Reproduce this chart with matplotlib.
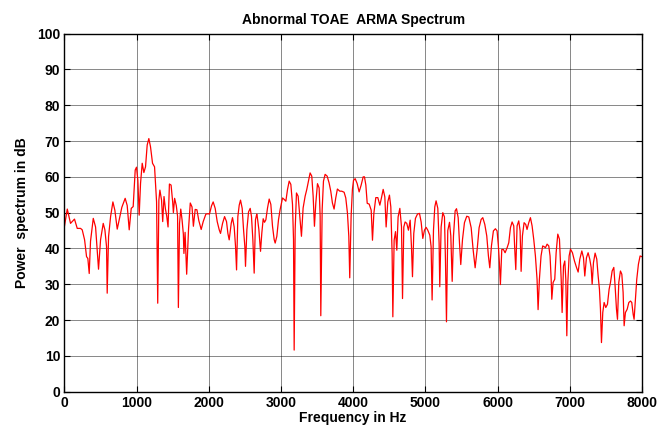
import matplotlib
matplotlib.use("Agg")
import matplotlib.pyplot as plt

# ARMA spectrum estimate of an abnormal TOAE recording
freq_hz = [
    0, 40, 85, 140, 178, 224, 247, 280, 307, 325, 344, 362, 400, 432, 455, 473, 501, 538, 561, 584,
    593, 612, 640, 672, 699, 732, 764, 796, 842, 870, 898, 926, 953, 981, 999, 1018, 1036, 1055, 1078, 1101,
    1124, 1147, 1170, 1193, 1221, 1249, 1277, 1293, 1309, 1323, 1346, 1362, 1380, 1400, 1418, 1436, 1455, 1478, 1500, 1510,
    1527, 1550, 1568, 1579, 1595, 1612, 1630, 1648, 1656, 1672, 1694, 1720, 1744, 1768, 1787, 1812, 1836, 1862, 1895, 1923,
    1960, 1990, 2010, 2038, 2061, 2089, 2117, 2145, 2163, 2191, 2219, 2246, 2265, 2283, 2311, 2329, 2352, 2371, 2385, 2403,
    2422, 2440, 2463, 2482, 2500, 2509, 2528, 2551, 2574, 2592, 2611, 2629, 2647, 2665, 2671, 2694, 2717, 2735, 2754, 2772,
    2791, 2814, 2837, 2860, 2883, 2906, 2920, 2943, 2966, 2989, 3022, 3045, 3068, 3091, 3114, 3137, 3160, 3174, 3183, 3197,
    3215, 3238, 3261, 3284, 3307, 3335, 3358, 3381, 3404, 3427, 3446, 3464, 3483, 3506, 3529, 3543, 3552, 3571, 3589, 3612,
    3640, 3667, 3690, 3713, 3736, 3759, 3782, 3815, 3842, 3875, 3898, 3921, 3940, 3953, 3972, 3990, 4005, 4028, 4056, 4083,
    4111, 4139, 4157, 4176, 4195, 4222, 4250, 4268, 4287, 4314, 4342, 4370, 4393, 4416, 4439, 4457, 4480, 4503, 4522, 4540,
    4550, 4568, 4587, 4605, 4623, 4647, 4670, 4684, 4702, 4720, 4743, 4766, 4790, 4808, 4822, 4840, 4863, 4891, 4919, 4942,
    4965, 4988, 5011, 5034, 5062, 5080, 5094, 5113, 5131, 5149, 5173, 5191, 5200, 5219, 5242, 5265, 5279, 5293, 5311, 5335,
    5353, 5372, 5390, 5413, 5432, 5455, 5473, 5491, 5515, 5542, 5574, 5602, 5635, 5662, 5690, 5718, 5745, 5773, 5796, 5824,
    5851, 5874, 5893, 5916, 5943, 5971, 5994, 6012, 6026, 6040, 6059, 6082, 6105, 6133, 6156, 6179, 6202, 6225, 6239, 6253,
    6271, 6294, 6313, 6327, 6345, 6368, 6391, 6409, 6433, 6456, 6479, 6502, 6525, 6548, 6562, 6580, 6603, 6626, 6645, 6664,
    6687, 6710, 6728, 6743, 6752, 6770, 6793, 6812, 6835, 6858, 6882, 6895, 6914, 6932, 6946, 6960, 6974, 6992, 7011, 7038,
    7066, 7094, 7117, 7140, 7168, 7191, 7209, 7232, 7255, 7278, 7297, 7311, 7329, 7352, 7375, 7394, 7412, 7426, 7440, 7458,
    7477, 7500, 7523, 7546, 7565, 7588, 7611, 7629, 7648, 7662, 7680, 7703, 7722, 7740, 7754, 7772, 7796, 7819, 7842, 7860,
    7879, 7892, 7911, 7929, 7952, 7975, 8000,
]
power_db = [
    46.1, 51.0, 47.0, 48.2, 45.6, 45.6, 45.2, 42.4, 37.7, 37.2, 33.0, 42.0, 48.4, 46.0, 39.6, 34.2, 42.4, 47.0, 45.2, 40.5,
    27.5, 43.3, 48.9, 53.0, 50.7, 45.4, 48.4, 51.5, 54.0, 52.0, 45.2, 51.2, 51.7, 61.9, 62.7, 59.0, 49.3, 58.2, 63.8, 61.2,
    62.8, 68.9, 70.7, 68.4, 63.8, 62.8, 53.0, 24.7, 53.5, 56.3, 53.5, 47.5, 54.5, 51.0, 49.0, 46.0, 58.0, 57.7, 53.0, 50.0,
    54.0, 52.0, 49.0, 23.5, 47.0, 51.0, 48.0, 44.0, 38.6, 44.5, 32.8, 45.5, 52.7, 51.6, 46.2, 50.9, 50.8, 47.8, 45.3, 47.5,
    49.6, 49.7, 49.6, 51.9, 53.0, 51.2, 47.5, 45.2, 44.2, 47.0, 48.9, 47.5, 44.2, 42.4, 47.0, 48.6, 46.0, 40.5, 34.0, 48.9,
    52.1, 53.5, 51.2, 45.2, 40.5, 35.0, 45.2, 50.2, 51.2, 48.9, 42.4, 33.1, 48.0, 49.6, 49.0, 45.3, 39.2, 44.3, 48.3, 47.3,
    48.0, 51.3, 53.8, 52.3, 46.2, 42.5, 41.5, 43.4, 48.0, 50.9, 54.1, 53.7, 53.2, 56.5, 58.8, 57.9, 52.3, 42.5, 11.6, 45.3,
    55.5, 54.6, 49.0, 43.4, 51.3, 54.6, 56.5, 58.8, 61.1, 60.2, 54.6, 46.2, 52.7, 58.1, 56.9, 49.0, 21.2, 50.9, 58.8, 60.7,
    60.2, 58.3, 56.0, 52.7, 51.0, 54.1, 56.6, 56.0, 56.0, 55.7, 54.1, 49.9, 43.4, 31.8, 49.0, 56.5, 59.0, 59.5, 58.1, 55.8,
    57.7, 60.0, 60.0, 57.7, 52.6, 52.4, 50.7, 42.3, 49.8, 54.2, 54.2, 52.1, 54.2, 56.5, 54.4, 46.0, 53.0, 54.9, 51.6, 38.6,
    20.9, 42.3, 44.7, 39.5, 48.8, 51.2, 46.0, 26.0, 46.0, 47.4, 47.0, 45.1, 47.9, 40.5, 32.1, 44.2, 48.4, 49.6, 49.8, 47.4,
    42.8, 45.1, 45.9, 45.1, 43.7, 40.5, 25.6, 45.1, 51.6, 53.3, 51.2, 41.4, 29.3, 46.0, 50.0, 48.8, 36.7, 19.5, 45.0, 47.3,
    43.5, 30.8, 43.5, 50.5, 51.1, 48.6, 41.6, 35.5, 42.5, 47.2, 49.0, 48.8, 45.8, 39.7, 34.6, 39.7, 45.8, 48.1, 48.6, 46.7,
    43.5, 37.9, 34.6, 40.7, 44.9, 45.5, 44.9, 40.7, 36.0, 29.9, 39.7, 39.7, 38.8, 40.2, 41.6, 45.8, 47.4, 46.3, 39.7, 34.1,
    46.3, 47.7, 44.9, 33.6, 43.5, 47.2, 46.7, 45.3, 47.2, 48.6, 46.3, 42.5, 37.9, 31.3, 22.9, 31.3, 37.9, 40.7, 40.5, 40.2,
    41.2, 40.7, 37.9, 31.4, 25.8, 30.5, 31.4, 38.8, 44.0, 42.6, 31.4, 22.1, 35.1, 36.5, 31.4, 15.6, 30.5, 37.9, 39.8, 38.8,
    36.5, 34.7, 33.4, 37.0, 39.3, 37.4, 32.3, 37.4, 38.8, 37.0, 34.7, 30.0, 36.0, 38.7, 37.0, 32.3, 28.6, 23.0, 13.7, 22.1,
    24.9, 23.5, 24.4, 28.6, 30.5, 33.7, 34.7, 29.5, 23.0, 20.2, 30.5, 33.7, 32.8, 27.7, 18.4, 22.1, 23.0, 24.9, 25.3, 24.9,
    21.6, 20.2, 25.8, 31.4, 35.6, 37.9, 37.7,
]

x_ticks = list(range(0, 8001, 1000))
y_ticks = list(range(0, 101, 10))

plt.rcParams['font.family'] = ['Liberation Sans', 'DejaVu Sans']

fig = plt.figure(figsize=(6.57, 4.32), dpi=100)
ax = fig.add_axes([0.098, 0.0935, 0.879, 0.8285])

ax.plot(freq_hz, power_db, color='#ff0000', linewidth=0.9)

ax.set_xlim(0, 8000)
ax.set_ylim(0, 100)
ax.set_xticks(x_ticks)
ax.set_yticks(y_ticks)
ax.grid(True, color='#000000', linewidth=0.6, alpha=0.55)
ax.tick_params(direction='in', top=True, right=True, length=4, width=0.8,
               labelsize=10, pad=3)
for lbl in ax.get_xticklabels() + ax.get_yticklabels():
    lbl.set_fontweight('bold')
for sp in ax.spines.values():
    sp.set_linewidth(1.0)
    sp.set_color('black')

ax.set_title('Abnormal TOAE  ARMA Spectrum', fontsize=10, fontweight='bold', pad=7)
ax.set_xlabel('Frequency in Hz', fontsize=10, fontweight='bold', labelpad=1)
ax.set_ylabel('Power  spectrum in dB', fontsize=10, fontweight='bold', labelpad=6)

fig.savefig('out.png', dpi=100)
